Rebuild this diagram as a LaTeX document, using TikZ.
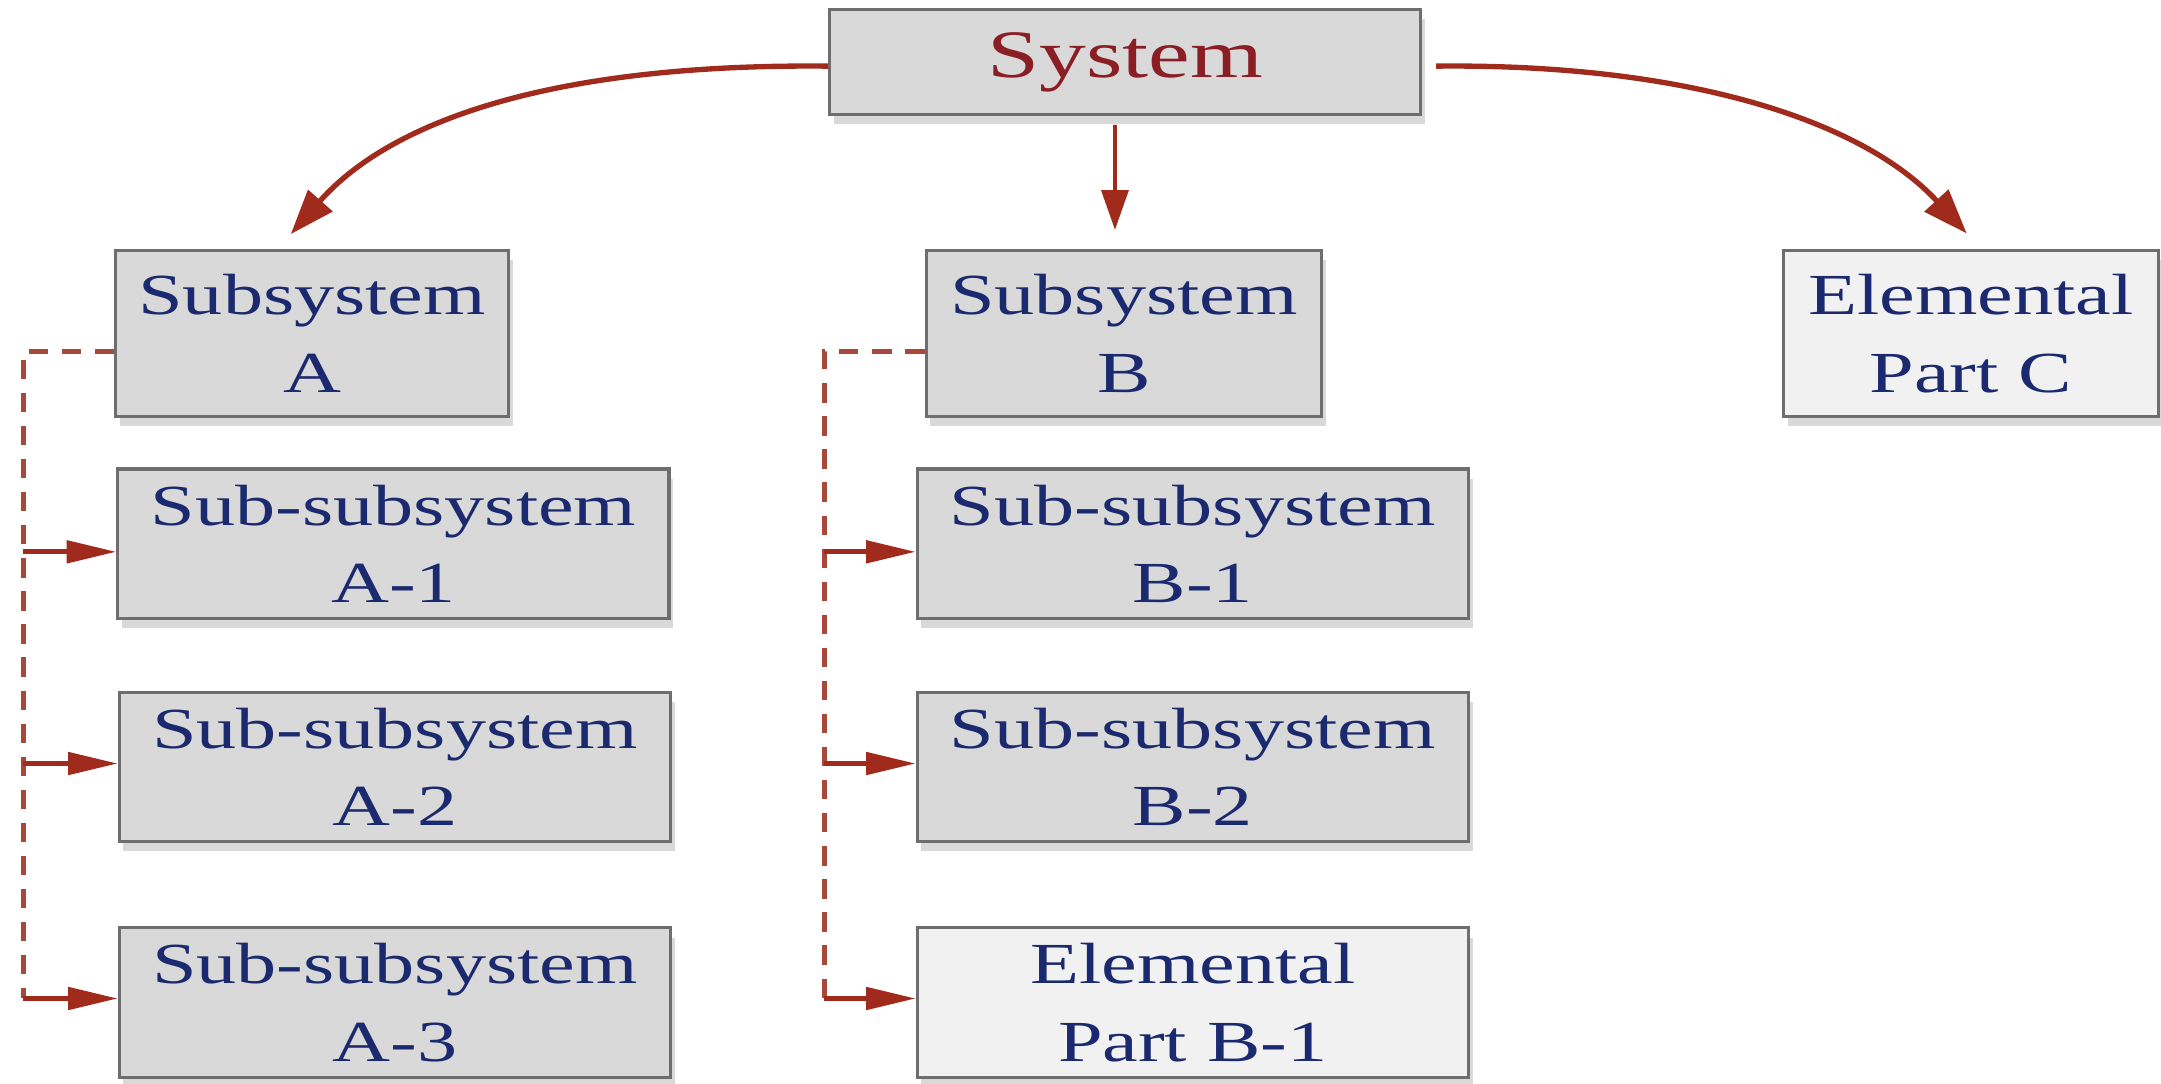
\documentclass[tikz,border=0pt]{standalone}
\usepackage{fontspec}
\setmainfont[FakeStretch=1.38]{Liberation Serif}
\usetikzlibrary{arrows.meta,shadows,calc}
\definecolor{boxgray}{HTML}{D9D9D9}
\definecolor{elemfill}{HTML}{F1F1F1}
\definecolor{boxedge}{HTML}{6E6E6E}
\definecolor{txtblue}{HTML}{1B2A6E}
\definecolor{sysred}{HTML}{8B1E24}
\definecolor{arrred}{HTML}{A02A1C}
\definecolor{dashred}{HTML}{A8483A}
\begin{document}
\begin{tikzpicture}[x=0.02cm,y=0.02cm,
  box/.style={draw=boxedge, line width=1.3pt, fill=boxgray, inner sep=0pt,
    align=center, text=txtblue, font=\fontsize{24}{32}\selectfont,
    drop shadow={shadow xshift=0.06cm, shadow yshift=-0.14cm, opacity=0.3}},
  elem/.style={box, fill=elemfill},
  toprow/.style={minimum height=2.4cm},
  subrow/.style={minimum width=8cm, minimum height=2.17cm},
  curvearr/.style={-{Triangle[length=0.65cm,width=0.46cm]}, line width=2.2pt, draw=arrred},
  downarr/.style={-{Triangle[length=0.58cm,width=0.39cm]}, line width=1.6pt, draw=arrred},
  stub/.style={-{Triangle[length=0.72cm,width=0.32cm]}, line width=2pt, draw=arrred},
  dashline/.style={draw=dashred, line width=2.2pt, dash pattern=on 0.28cm off 0.2cm}
]
\useasboundingbox (0,0) rectangle (1568,-786);

% nodes
\node[box, minimum width=8.58cm, minimum height=1.52cm, text=sysred,
      font=\fontsize{28}{34}\selectfont] (sys) at (816.5,-45) {System};
\node[box, toprow, minimum width=5.7cm]  (subA) at (226.5,-242) {Subsystem\\A};
\node[box, toprow, minimum width=5.74cm] (subB) at (815.5,-242) {Subsystem\\B};
\node[elem, toprow, minimum width=5.44cm] (partC) at (1430,-242) {Elemental\\Part C};

\node[box, subrow] (A1) at (285.5,-394.5) {Sub-subsystem\\A-1};
\node[box, subrow] (A2) at (286.5,-556.5) {Sub-subsystem\\A-2};
\node[box, subrow] (A3) at (286.5,-727.5) {Sub-subsystem\\A-3};

\node[box, subrow] (B1) at (865.5,-394.5) {Sub-subsystem\\B-1};
\node[box, subrow] (B2) at (865.5,-556.5) {Sub-subsystem\\B-2};
\node[elem, subrow] (PB1) at (865.5,-727.5) {Elemental\\Part B-1};

% main arrows
\draw[curvearr] ([yshift=-0.06cm]sys.west) .. controls (405,-46) and (285,-86) .. ($(subA.north)+(-15.5,11)$);
\draw[downarr] ([xshift=-0.15cm,yshift=-0.13cm]sys.south) -- ([xshift=-0.13cm,yshift=0.28cm]subB.north);
\draw[curvearr] ([xshift=0.2cm,yshift=-0.06cm]sys.east) .. controls (1225,-46) and (1352,-88) .. ($(partC.north)+(-3,11.5)$);

% branch coordinates
\coordinate (a1) at (17,-400.4);
\coordinate (a2) at (17,-554);
\coordinate (a3) at (17,-724.5);
\coordinate (b1) at (598,-400.4);
\coordinate (b2) at (598,-554);
\coordinate (b3) at (598,-724.5);

% dashed trunks
\draw[dashline] ([yshift=-0.26cm]subA.west) -| (a3);
\draw[dashline] ([yshift=-0.26cm]subB.west) -| (b3);

% stubs
\draw[stub] (a1) -- (a1 -| A1.west);
\draw[stub] (a2) -- (a2 -| A2.west);
\draw[stub] (a3) -- (a3 -| A3.west);
\draw[stub] (b1) -- (b1 -| B1.west);
\draw[stub] (b2) -- (b2 -| B2.west);
\draw[stub] (b3) -- (b3 -| PB1.west);
\end{tikzpicture}
\end{document}
